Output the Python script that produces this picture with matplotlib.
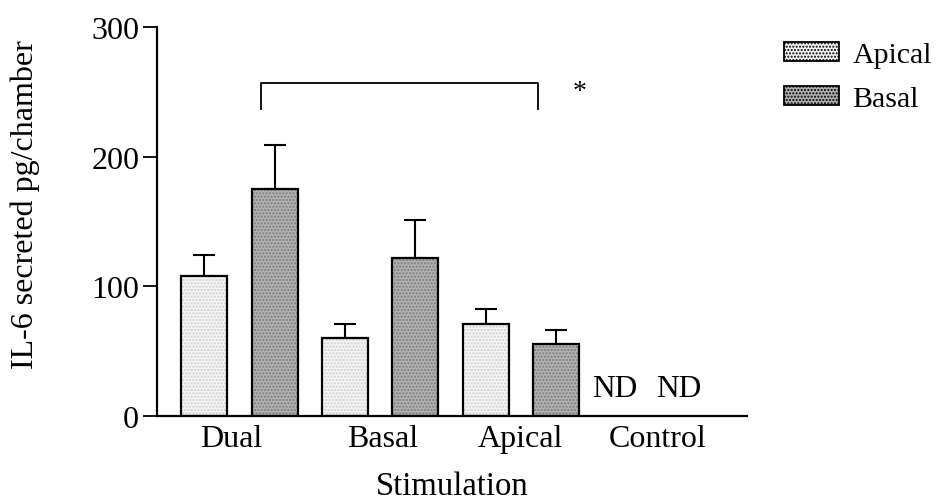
import matplotlib
matplotlib.use("Agg")
import matplotlib.pyplot as plt
from matplotlib.patches import Patch
import numpy as np

plt.rcParams['font.family'] = ['Liberation Serif', 'DejaVu Serif']

groups = ["Dual", "Basal", "Apical", "Control"]
apical_mean = [108, 60, 71]
apical_err = [16, 11, 11]
basal_mean = [175, 122, 55]
basal_err = [34, 29, 11]
nd_labels = ["ND", "ND"]

fig = plt.figure(figsize=(9.36, 5.02), dpi=100)
ax = fig.add_axes([0.168, 0.170, 0.630, 0.774])

x = np.arange(len(groups))
w = 0.327
off = 0.25
n = len(apical_mean)

APICAL_FACE, APICAL_DOT = '#f4f4f4', '#cfcfcf'
BASAL_FACE, BASAL_DOT = '#b0b0b0', '#7c7c7c'

def stippled(ax, xs, vals, base, dots):
    ax.bar(xs, vals, w, color=base, edgecolor=dots, hatch='.....', linewidth=0, zorder=2)
    ax.bar(xs, vals, w, fill=False, edgecolor='black', linewidth=1.6, zorder=3)

stippled(ax, x[:n] - off, apical_mean, APICAL_FACE, APICAL_DOT)
stippled(ax, x[:n] + off, basal_mean, BASAL_FACE, BASAL_DOT)

ax.errorbar(x[:n] - off, apical_mean, yerr=[np.zeros(n), apical_err], fmt='none',
            ecolor='black', elinewidth=1.5, capsize=8, capthick=1.5, zorder=1)
ax.errorbar(x[:n] + off, basal_mean, yerr=[np.zeros(n), basal_err], fmt='none',
            ecolor='black', elinewidth=1.5, capsize=8, capthick=1.5, zorder=1)

# not-detected markers for the control condition
ax.text(2.672, 15, nd_labels[0], ha='center', va='baseline', fontsize=22.5)
ax.text(3.123, 15, nd_labels[1], ha='center', va='baseline', fontsize=22.5)

# significance bracket
bl, br, btop, bbot = 0.15, 2.125, 257, 237
ax.plot([bl, bl, br, br], [bbot, btop, btop, bbot], color='black', lw=1.3)
ax.text(2.42, 250, '*', ha='center', va='center', fontsize=20)

ax.set_xlim(-0.586, 3.61)
ax.set_ylim(0, 300)
ax.set_yticks([0, 100, 200, 300])
ax.set_xticks(x + np.array([-0.057, 0.018, 0, -0.025]))
ax.set_xticklabels(groups, fontsize=23)
ax.tick_params(axis='y', labelsize=23, length=10, width=1.3, direction='out', pad=3)
ax.tick_params(axis='x', length=0, pad=6)
for s in ['top', 'right']:
    ax.spines[s].set_visible(False)
for s in ['left', 'bottom']:
    ax.spines[s].set_linewidth(1.6)

ax.set_xlabel("Stimulation", fontsize=23.5)
ax.xaxis.set_label_coords(0.5, -0.14)
ax.set_ylabel("IL-6 secreted pg/chamber", fontsize=23, va='center')
ax.yaxis.set_label_coords(-0.224, 0.546)

handles = [Patch(facecolor=APICAL_FACE, edgecolor='black', hatch='.....', linewidth=1.3),
           Patch(facecolor=BASAL_FACE, edgecolor='black', hatch='.....', linewidth=1.3)]
fig.legend(handles, ["Apical", "Basal"], loc='upper left', bbox_to_anchor=(0.8376, 0.914),
           frameon=False, fontsize=21.5, handlelength=1.84, handleheight=0.57,
           handletextpad=0.45, labelspacing=0.6, borderpad=0, borderaxespad=0)

fig.savefig("out.png", dpi=100)
